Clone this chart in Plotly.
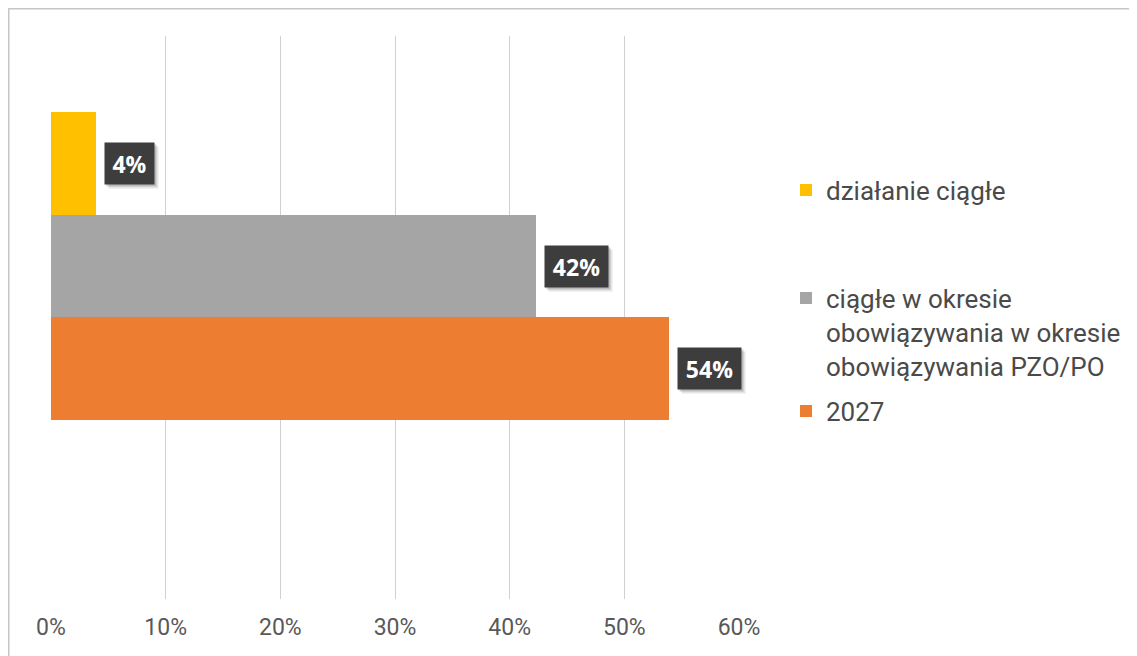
import plotly.graph_objects as go

# ---- data ----
series_names = [
    "2027",
    "ciągłe w okresie<br>obowiązywania w okresie<br>obowiązywania PZO/PO",
    "działanie ciągłe",
]
series_values = [53.9, 42.3, 3.9]
series_labels = ["54%", "42%", "4%"]
series_colors = ["#ED7D31", "#A5A5A5", "#FFC000"]
x_ticks = [0, 10, 20, 30, 40, 50, 60]
x_tick_labels = ["0%", "10%", "20%", "30%", "40%", "50%", "60%"]

OFF = 8  # page body margin
W, H = 1137, 656
# reference page-pixel geometry of the plot area
PL, PR, PT, PB = 51, 739, 36, 599
ML, MT = PL - OFF, PT - OFF
MR = W - (PR - OFF)
MB = H - (PB - OFF)
PW = PR - PL
PH = PB - PT

fig = go.Figure()
legend_ids = ["legend3", "legend2", "legend"]
for name, val, col, lg in zip(series_names, series_values, series_colors, legend_ids):
    fig.add_trace(go.Bar(
        x=[val], y=[0], orientation="h", name=name,
        marker=dict(color=col, line=dict(width=0)),
        legend=lg, hoverinfo="skip",
    ))

# annotations (labels with dark boxes + soft shadow)
n = len(series_values)
PAD = 7
for i, (val, lab) in enumerate(zip(series_values, series_labels)):
    yc = -0.5 + (i + 0.5) / n
    bw = 14 * len(lab) + 7
    bh = 27
    for dx, dy, alpha in [(4, -4, 0.10), (2, -2, 0.18)]:
        fig.add_annotation(
            x=val, y=yc, xref="x", yref="y", text="&nbsp;", showarrow=False,
            xanchor="left", yanchor="middle", xshift=8 + dx, yshift=dy,
            width=bw, height=bh,
            font=dict(family="Open Sans", size=23, color="rgba(0,0,0,0)"),
            bgcolor=f"rgba(0,0,0,{alpha})", borderpad=PAD,
        )
    fig.add_annotation(
        x=val, y=yc, xref="x", yref="y", text=f"<b>{lab}</b>", showarrow=False,
        xanchor="left", yanchor="middle", xshift=8, width=bw, height=bh,
        font=dict(family="Open Sans", size=23, color="#ffffff"),
        bgcolor="#3d3d3d", borderpad=PAD,
    )

# frame (top and left edges of the cropped chart frame), at the figure edge
def fx(p):  # figure pixel -> paper x
    return (p - ML) / PW

def fy(p):  # figure pixel -> paper y
    return (H - MB - p) / PH

fig.add_shape(type="line", xref="paper", yref="paper",
              x0=fx(0), x1=fx(W), y0=fy(0.5), y1=fy(0.5),
              line=dict(color="#c6c6c6", width=2))
fig.add_shape(type="line", xref="paper", yref="paper",
              x0=fx(0.5), x1=fx(0.5), y0=fy(0), y1=fy(H),
              line=dict(color="#c6c6c6", width=2))

def px_y(p):  # reference page pixel -> paper y
    return (PB - p) / PH

legend_font = dict(family="Roboto", size=26, color="#4a4a4a")
leg_x = (786 - PL) / PW
common_leg = dict(x=leg_x, xanchor="left", yanchor="middle", font=legend_font,
                  bgcolor="rgba(0,0,0,0)", valign="top", itemclick=False,
                  itemdoubleclick=False)

fig.update_layout(
    width=W, height=H,
    margin=dict(l=ML, r=MR, t=MT, b=MB, pad=0),
    paper_bgcolor="white", plot_bgcolor="white",
    barmode="group", bargap=0, bargroupgap=0,
    xaxis=dict(
        range=[0, 60], tickvals=x_ticks, ticktext=x_tick_labels,
        showgrid=True, gridcolor="#d0d0d0", gridwidth=1,
        zeroline=False, showline=False, ticks="",
        tickfont=dict(family="Roboto", size=23, color="#595959"),
        ticklabelstandoff=12, fixedrange=True,
    ),
    yaxis=dict(
        range=[-1.0812, 0.7468], showgrid=False, zeroline=False,
        showticklabels=False, showline=False, ticks="", fixedrange=True,
    ),
    legend=dict(y=px_y(190), **common_leg),
    legend2=dict(y=px_y(332), **common_leg),
    legend3=dict(y=px_y(411), **common_leg),
    showlegend=True,
    hovermode=False,
)

fig.write_html("out.html", config={"displayModeBar": False})
